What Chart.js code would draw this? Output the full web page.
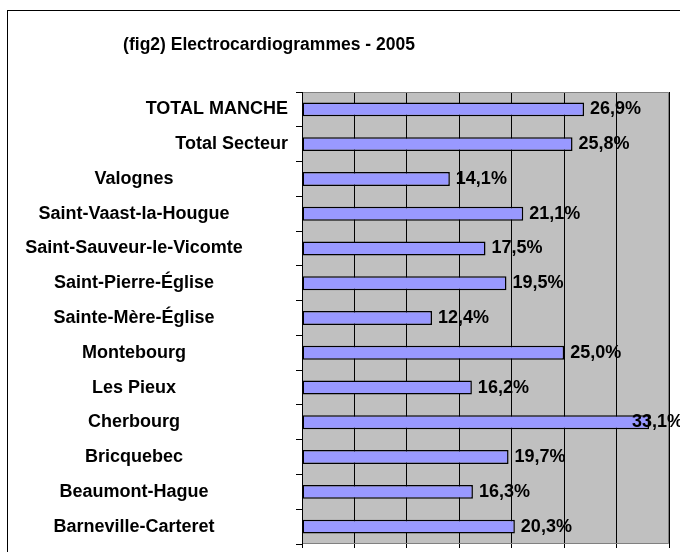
<!DOCTYPE html>
<html lang="fr">
<head>
<meta charset="UTF-8">
<title>Electrocardiogrammes 2005</title>
<script src="https://cdn.jsdelivr.net/npm/chart.js@4.4.1/dist/chart.umd.min.js"></script>
<style>
  html, body { margin: 0; padding: 0; background: #fff; }
  #wrap { width: 680px; height: 552px; position: relative; }
</style>
</head>
<body>
<div id="wrap"><canvas id="myChart" width="680" height="552"></canvas></div>
<script>
// donnees
var communes = [
  'TOTAL MANCHE', 'Total Secteur', 'Valognes', 'Saint-Vaast-la-Hougue',
  'Saint-Sauveur-le-Vicomte', 'Saint-Pierre-Église', 'Sainte-Mère-Église',
  'Montebourg', 'Les Pieux', 'Cherbourg', 'Bricquebec', 'Beaumont-Hague',
  'Barneville-Carteret'
];
var taux = [26.9, 25.8, 14.1, 21.1, 17.5, 19.5, 12.4, 25.0, 16.2, 33.1, 19.7, 16.3, 20.3];
var totaux = ['TOTAL MANCHE', 'Total Secteur'];   // ces deux libelles sont cales a droite
var titre = '(fig2) Electrocardiogrammes - 2005';

var police = '"Liberation Sans", Arial, sans-serif';
var fmt = function (v) { return v.toFixed(1).replace('.', ',') + '%'; };

// fond gris, cadre, titre, libelles et valeurs
var decor = {
  id: 'decor',
  beforeDraw: function (chart) {
    var c = chart.ctx, a = chart.chartArea;
    c.save();
    c.fillStyle = '#c0c0c0';
    c.fillRect(a.left, a.top, a.right - a.left, a.bottom - a.top);
    c.restore();
  },
  afterDraw: function (chart) {
    var c = chart.ctx, a = chart.chartArea;
    var yS = chart.scales.y, meta = chart.getDatasetMeta(0);
    c.save();
    // bord du cadre de la zone de traçage
    c.strokeStyle = '#808080';
    c.lineWidth = 1;
    c.beginPath();
    c.moveTo(a.left, a.top + 0.5); c.lineTo(a.right - 0.5, a.top + 0.5);
    c.lineTo(a.right - 0.5, a.bottom - 0.5); c.lineTo(a.left, a.bottom - 0.5);
    c.stroke();
    c.strokeStyle = '#000';
    c.strokeRect(a.left + 0.5, a.top, 0, a.bottom - a.top);
    // cadre exterieur
    c.strokeRect(7.5, 10.5, 800, 800);

    c.fillStyle = '#000';
    c.textBaseline = 'middle';
    c.font = 'bold 17.5px ' + police;
    c.textAlign = 'center';
    c.fillText(titre, 269, 45);

    c.font = 'bold 18px ' + police;
    communes.forEach(function (lab, i) {
      var y = yS.getPixelForTick(i);
      if (totaux.indexOf(lab) >= 0) {
        c.textAlign = 'right';
        c.fillText(lab, 288, y);
      } else {
        c.textAlign = 'center';
        c.fillText(lab, 134, y);
      }
    });

    c.textAlign = 'left';
    meta.data.forEach(function (bar, i) {
      var txt = fmt(taux[i]);
      var w = c.measureText(txt).width;
      var x = Math.min(bar.x + 6, chart.width - w + 3);
      c.fillText(txt, x, bar.y);
    });
    c.restore();
  }
};

var ctx = document.getElementById('myChart').getContext('2d');
var myChart = new Chart(ctx, {
  type: 'bar',
  data: {
    labels: communes,
    datasets: [{
      data: taux,
      backgroundColor: '#9999ff',
      borderColor: '#000',
      borderWidth: 1.5,
      borderSkipped: false,
      categoryPercentage: 1,
      barPercentage: 0.4
    }]
  },
  options: {
    indexAxis: 'y',
    responsive: false,
    animation: false,
    layout: { padding: { top: 92, left: 0, right: 11, bottom: 0 } },
    plugins: {
      legend: { display: false },
      title: { display: false },
      tooltip: { enabled: false }
    },
    scales: {
      x: {
        min: 0,
        max: 35,
        ticks: { display: false, stepSize: 5 },
        grid: { color: '#000', tickLength: 4, lineWidth: 1 },
        border: { display: false },
        afterFit: function (s) { s.height = 8; }
      },
      y: {
        ticks: { display: false },
        grid: { offset: true, drawOnChartArea: false, color: '#000', tickLength: 6 },
        border: { display: false },
        afterFit: function (s) { s.width = 302; }
      }
    }
  },
  plugins: [decor]
});
</script>
</body>
</html>
